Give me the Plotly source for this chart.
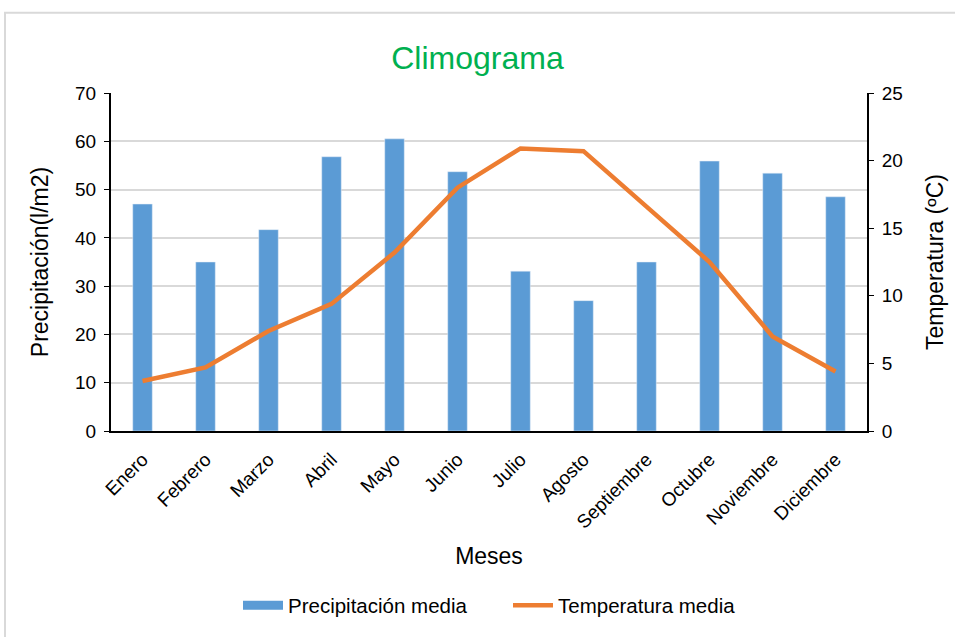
import plotly.graph_objects as go

meses = ["Enero", "Febrero", "Marzo", "Abril", "Mayo", "Junio", "Julio",
         "Agosto", "Septiembre", "Octubre", "Noviembre", "Diciembre"]
precipitacion = [47.0, 35.0, 41.7, 56.8, 60.5, 53.7, 33.1, 27.0, 35.0, 55.9, 53.4, 48.5]
temperatura = [3.7, 4.7, 7.4, 9.4, 13.2, 18.0, 20.9, 20.7, 16.6, 12.5, 7.0, 4.4]
ticks_izq = [0, 10, 20, 30, 40, 50, 60, 70]
ticks_der = [0, 5, 10, 15, 20, 25]

FONT = "Liberation Sans, Arial, sans-serif"
AZUL = "#5B9BD5"
NARANJA = "#ED7D31"

fig = go.Figure()
fig.add_trace(go.Bar(x=meses, y=precipitacion, name="Precipitación media",
                     marker=dict(color=AZUL), width=0.31, yaxis="y", showlegend=False))
# legend-only swatch for the bars (wide rectangle like the reference)
fig.add_trace(go.Scatter(x=[None], y=[None], name="Precipitación media", mode="lines",
                         line=dict(color=AZUL, width=9), yaxis="y"))
fig.add_trace(go.Scatter(x=meses, y=temperatura, name="Temperatura media",
                         mode="lines", line=dict(color=NARANJA, width=4.5),
                         yaxis="y2"))

L, R, T, B = 111, 88, 93, 203
W, H = 955, 637
pw, ph = W - L - R, H - T - B

def px_to_paper_x(px):
    return (px - L) / pw

def px_to_paper_y(py):
    return (H - B - py) / ph

fig.update_layout(
    width=W, height=H,
    margin=dict(l=L, r=R, t=T, b=B),
    paper_bgcolor="white", plot_bgcolor="white",
    font=dict(family=FONT, size=19, color="#000000"),
    title=dict(text="Climograma", x=0.5, xanchor="center", y=1 - 58 / H, yanchor="middle",
               font=dict(family=FONT, size=32, color="#00B050")),
    xaxis=dict(title=dict(text="Meses", font=dict(size=23), standoff=16),
               tickangle=-45, showline=True, linecolor="#000000", linewidth=2,
               ticks="", tickfont=dict(size=19), showgrid=False, automargin=False,
               ticklabelstandoff=8),
    yaxis=dict(title=dict(text="Precipitación(l/m2)", font=dict(size=23), standoff=20),
               range=[0, 70], tickvals=ticks_izq, showline=True, linecolor="#000000",
               linewidth=2, ticks="outside", ticklen=5, tickcolor="#000000",
               showgrid=True, gridcolor="#D9D9D9", gridwidth=2, zeroline=False,
               tickfont=dict(size=19), automargin=False, ticklabelstandoff=4),
    yaxis2=dict(title=dict(text="Temperatura (ºC)", font=dict(size=23), standoff=25),
                range=[0, 25], tickvals=ticks_der, overlaying="y", side="right",
                showline=True, linecolor="#000000", linewidth=2, ticks="outside",
                ticklen=5, tickcolor="#000000", showgrid=False, zeroline=False,
                tickfont=dict(size=19), automargin=False, ticklabelstandoff=4),
    legend=dict(orientation="h", x=px_to_paper_x(238), xanchor="left", y=px_to_paper_y(610),
                yanchor="middle", font=dict(size=20.5), itemwidth=40,
                entrywidth=215, entrywidthmode="pixels",
                traceorder="normal"),
    bargap=0.5,
    shapes=[dict(type="rect", xref="paper", yref="paper",
                 x0=px_to_paper_x(5), x1=px_to_paper_x(960),
                 y0=px_to_paper_y(645), y1=px_to_paper_y(12),
                 line=dict(color="#D9D9D9", width=2), fillcolor="rgba(0,0,0,0)",
                 layer="below")],
)

fig.write_html("out.html", config={"displayModeBar": False},
               post_script="document.body.style.margin='0';")
